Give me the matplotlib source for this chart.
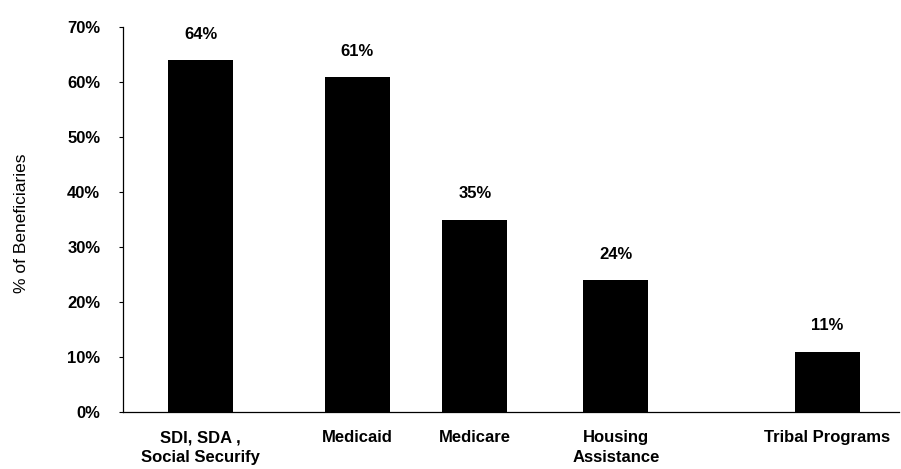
import matplotlib.pyplot as plt

# === Data ===
programs = ["SDI, SDA ,\nSocial Securify", "Medicaid", "Medicare", "Housing\nAssistance", "Tribal Programs"]
pct_beneficiaries = [64, 61, 35, 24, 11]
y_ticks = [0, 10, 20, 30, 40, 50, 60, 70]

plt.rcParams['font.family'] = ['Liberation Sans', 'DejaVu Sans']

# bar centres along the x axis (uneven spacing)
bar_x = [0, 1, 1.75, 2.65, 4]

fig = plt.figure(figsize=(9.01, 4.69), dpi=100)
ax = fig.add_axes([0.136, 0.1215, 0.862, 0.8205])

ax.bar(bar_x, pct_beneficiaries, width=0.415, color='black')

for x, v in zip(bar_x, pct_beneficiaries):
    ax.text(x, v + 3.3, f"{v}%", ha='center', va='bottom',
            fontsize=12, fontweight='bold')

ax.set_xlim(-0.5, 4.46)
ax.set_ylim(0, 70)
ax.set_yticks(y_ticks)
ax.set_yticklabels([f"{t}%" for t in y_ticks], fontsize=12, fontweight='bold')
ax.set_xticks(bar_x)
ax.set_xticklabels(programs, fontsize=12, fontweight='bold', linespacing=1.45)
ax.tick_params(axis='x', length=0, pad=13)
ax.tick_params(axis='y', length=3, width=0.8, pad=13)
ax.set_ylabel("% of Beneficiaries", fontsize=12.5)
ax.yaxis.set_label_coords(-0.121, 0.49)

for side in ['top', 'right']:
    ax.spines[side].set_visible(False)
ax.spines['left'].set_linewidth(0.9)
ax.spines['bottom'].set_linewidth(0.9)

plt.savefig("out.png", dpi=100)
